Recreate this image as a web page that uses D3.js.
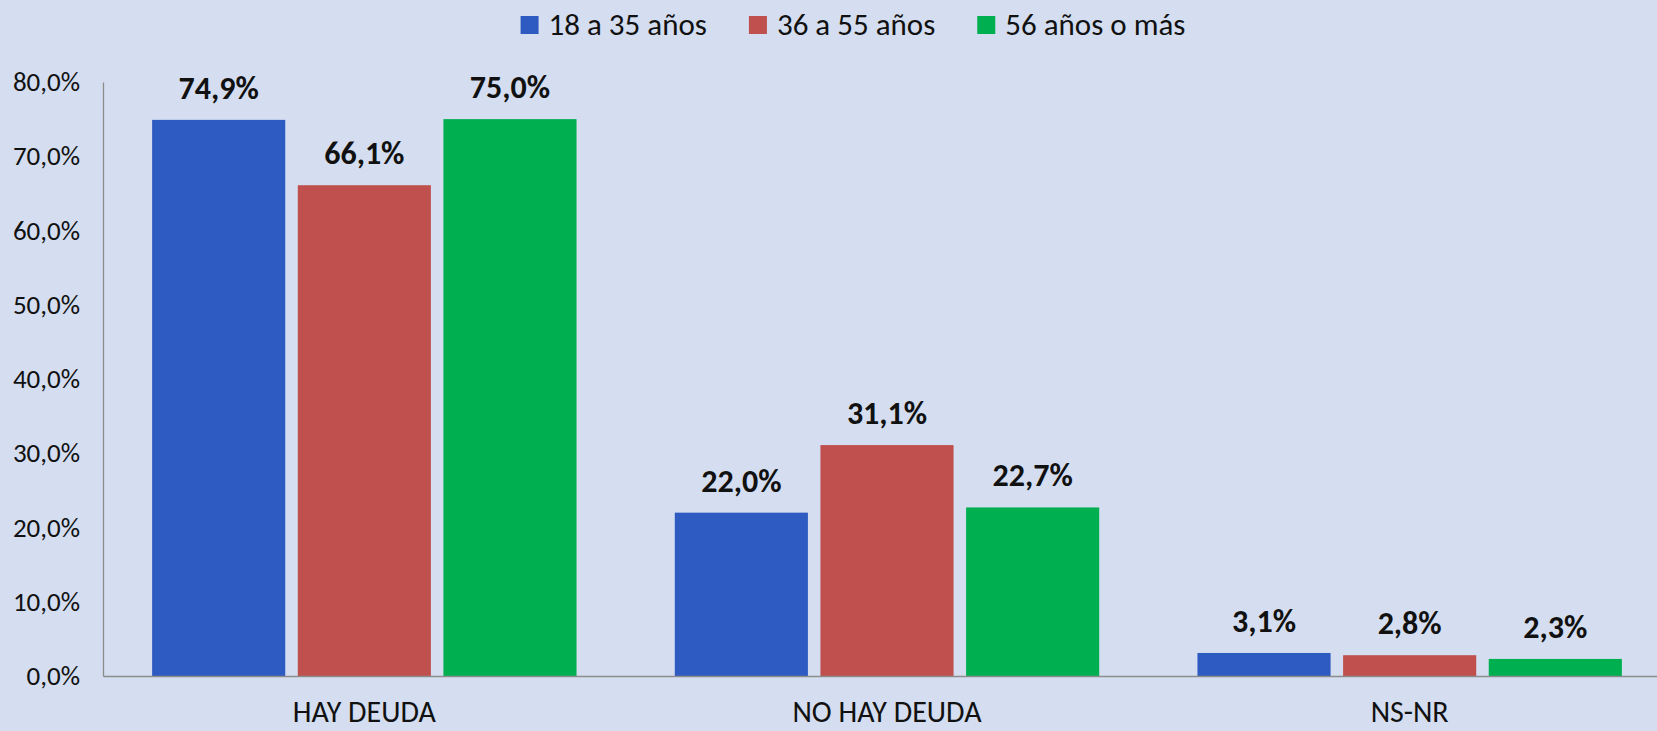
<!DOCTYPE html>
<html>
<head>
<meta charset="utf-8">
<script src="https://cdn.jsdelivr.net/npm/d3@7"></script>
<style>
  html, body { margin: 0; padding: 0; background: #D4DEF0; }
  svg { display: block; }
  text { font-family: Carlito, Calibri, Lato, "Open Sans", sans-serif; fill: #111; }
</style>
</head>
<body>
<svg id="chart" width="1657" height="731"></svg>
<script>
// Deuda por grupo de edad
const categories = ["HAY DEUDA", "NO HAY DEUDA", "NS-NR"];
const seriesNames = ["18 a 35 años", "36 a 55 años", "56 años o más"];
const seriesColors = ["#2E5BC1", "#C0504D", "#00B050"];
const values18a35 = [74.9, 22.0, 3.1];
const values36a55 = [66.1, 31.1, 2.8];
const values56mas = [75.0, 22.7, 2.3];
const yTicks = [0, 10, 20, 30, 40, 50, 60, 70, 80];

const seriesValues = [values18a35, values36a55, values56mas];

const width = 1657, height = 731;
const margin = { left: 103, right: -14, top: 82, bottom: 55 };

const svg = d3.select("#chart");

const locale = d3.formatLocale({ decimal: ",", thousands: ".", grouping: [3], currency: ["", "€"] });
const fmt = v => locale.format(".1f")(v) + "%";

const x0 = d3.scaleBand()
  .domain(categories)
  .range([margin.left, width - margin.right])
  .paddingInner(0.188)
  .paddingOuter(0.094);

const x1 = d3.scaleBand()
  .domain(d3.range(seriesNames.length))
  .range([0, x0.bandwidth()])
  .paddingInner(0.086);

const y = d3.scaleLinear()
  .domain([0, 80])
  .range([height - margin.bottom, margin.top]);

// Y axis
const yAxis = svg.append("g")
  .attr("transform", `translate(${margin.left},0)`)
  .call(d3.axisLeft(y).tickValues(yTicks).tickFormat(fmt).tickSize(0).tickPadding(23));
yAxis.select(".domain").attr("stroke", "#8C8C8C").attr("stroke-width", 1.3);
yAxis.selectAll("text")
  .style("font-size", "27px")
  .attr("fill", "#1a1a1a")
  .style("font-family", "Carlito, Calibri, Lato, 'Open Sans', sans-serif");

// Bars
const groups = svg.append("g").selectAll("g")
  .data(categories)
  .join("g")
  .attr("transform", d => `translate(${x0(d)},0)`);

groups.selectAll("rect")
  .data((c, ci) => seriesValues.map((vals, si) => ({ si, v: vals[ci] })))
  .join("rect")
  .attr("x", d => x1(d.si))
  .attr("width", x1.bandwidth())
  .attr("y", d => y(d.v))
  .attr("height", d => y(0) - y(d.v))
  .attr("fill", d => seriesColors[d.si]);

groups.selectAll("text.val")
  .data((c, ci) => seriesValues.map((vals, si) => ({ si, v: vals[ci] })))
  .join("text")
  .attr("class", "val")
  .attr("x", d => x1(d.si) + x1.bandwidth() / 2)
  .attr("y", d => y(d.v) - 21)
  .attr("text-anchor", "middle")
  .style("font-size", "32px")
  .style("font-weight", "bold")
  .attr("fill", "#0a0a0a")
  .text(d => fmt(d.v));

// X axis baseline and category labels
const xAxis = svg.append("g")
  .attr("transform", `translate(0,${y(0)})`)
  .call(d3.axisBottom(x0).tickSize(0).tickPadding(0));
xAxis.select(".domain").attr("stroke", "#8C8C8C").attr("stroke-width", 1.3);
xAxis.selectAll("text")
  .attr("dy", null)
  .attr("y", 46)
  .style("font-size", "30px")
  .attr("fill", "#111")
  .style("font-family", "Carlito, Calibri, Lato, 'Open Sans', sans-serif");

// Legend
const legend = svg.append("g");
const items = legend.selectAll("g")
  .data(seriesNames)
  .join("g");
items.append("rect")
  .attr("width", 18).attr("height", 18)
  .attr("y", 16)
  .attr("fill", (d, i) => seriesColors[i]);
items.append("text")
  .attr("x", 28)
  .attr("y", 35)
  .style("font-size", "31px")
  .attr("fill", "#111")
  .text(d => d);
let cursor = 0;
const offsets = [];
items.each(function () {
  offsets.push(cursor);
  const w = this.querySelector("text").getComputedTextLength();
  cursor += 28 + w + 42;
});
const total = cursor - 42;
const start = 853 - total / 2;
items.attr("transform", (d, i) => `translate(${start + offsets[i]},0)`);
</script>
</body>
</html>
